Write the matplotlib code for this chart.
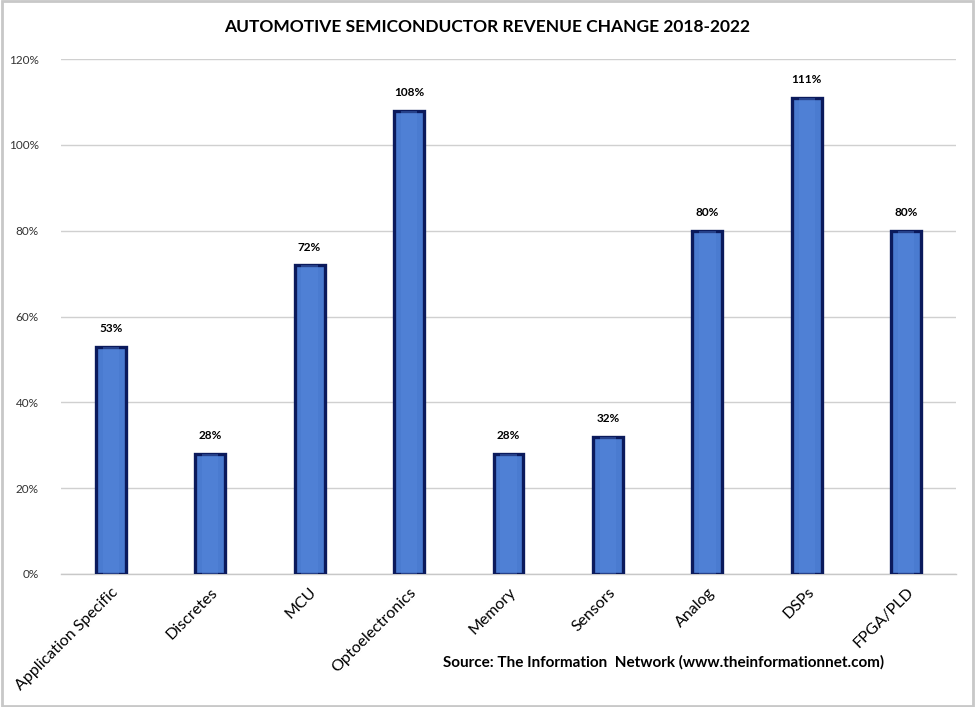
import matplotlib
matplotlib.use("Agg")
import matplotlib.pyplot as plt
from matplotlib.patches import Rectangle
from matplotlib.ticker import FuncFormatter, MultipleLocator

categories = ["Application Specific", "Discretes", "MCU", "Optoelectronics",
              "Memory", "Sensors", "Analog", "DSPs", "FPGA/PLD"]
values = [53, 28, 72, 108, 28, 32, 80, 111, 80]
labels = ["53%", "28%", "72%", "108%", "28%", "32%", "80%", "111%", "80%"]

title = "AUTOMOTIVE SEMICONDUCTOR REVENUE CHANGE 2018-2022"
source = "Source: The Information  Network (www.theinformationnet.com)"

plt.rcParams["font.family"] = ["Lato", "DejaVu Sans"]

fig = plt.figure(figsize=(9.75, 7.07), dpi=100)
fig.patches.append(Rectangle((0.002, 0.002), 0.996, 0.996, transform=fig.transFigure,
                             fill=False, edgecolor="#c8c8c8", linewidth=2))
ax = fig.add_axes([61 / 975, 1 - 574 / 707, (956 - 61) / 975, (574 - 59) / 707])

x = list(range(len(categories)))
width = 0.3
ax.bar(x, values, width=width, color="#4a7bd0", edgecolor="#0b1a5c",
       linewidth=2.4, zorder=3)
# inner highlight to mimic bevel
ax.bar(x, values, width=width * 0.55, color="#5a8ae0", edgecolor="none",
       linewidth=0, zorder=3.5, alpha=0.35)

for xi, v, lab in zip(x, values, labels):
    ax.annotate(lab, (xi, v), xytext=(0, 9), textcoords="offset points",
                ha="center", va="bottom", fontsize=8.5, fontweight="bold", color="black")

ax.set_ylim(0, 120)
ax.set_xlim(-0.5, len(categories) - 0.5)
ax.yaxis.set_major_locator(MultipleLocator(20))
ax.yaxis.set_major_formatter(FuncFormatter(lambda v, p: f"{v:.0f}%"))
ax.grid(axis="y", color="#d0d0d0", linewidth=1, zorder=0)
for s in ["top", "right", "left"]:
    ax.spines[s].set_visible(False)
ax.spines["bottom"].set_color("#c8c8c8")
ax.spines["bottom"].set_linewidth(1)
ax.tick_params(axis="y", length=0, pad=16, labelsize=8.5, labelcolor="#333333")
ax.tick_params(axis="x", length=0, pad=8)
ax.set_xticks(x)
ax.set_xticklabels(categories, rotation=45, ha="right", rotation_mode="anchor",
                   fontsize=11.5, color="black")

fig.text(487 / 975, 1 - 27 / 707, title, ha="center", va="center",
         fontsize=12.5, fontweight="bold")
fig.text(664 / 975, 1 - 662 / 707, source, ha="center", va="center",
         fontsize=11, fontweight="bold")

fig.savefig("out.png", dpi=100)
